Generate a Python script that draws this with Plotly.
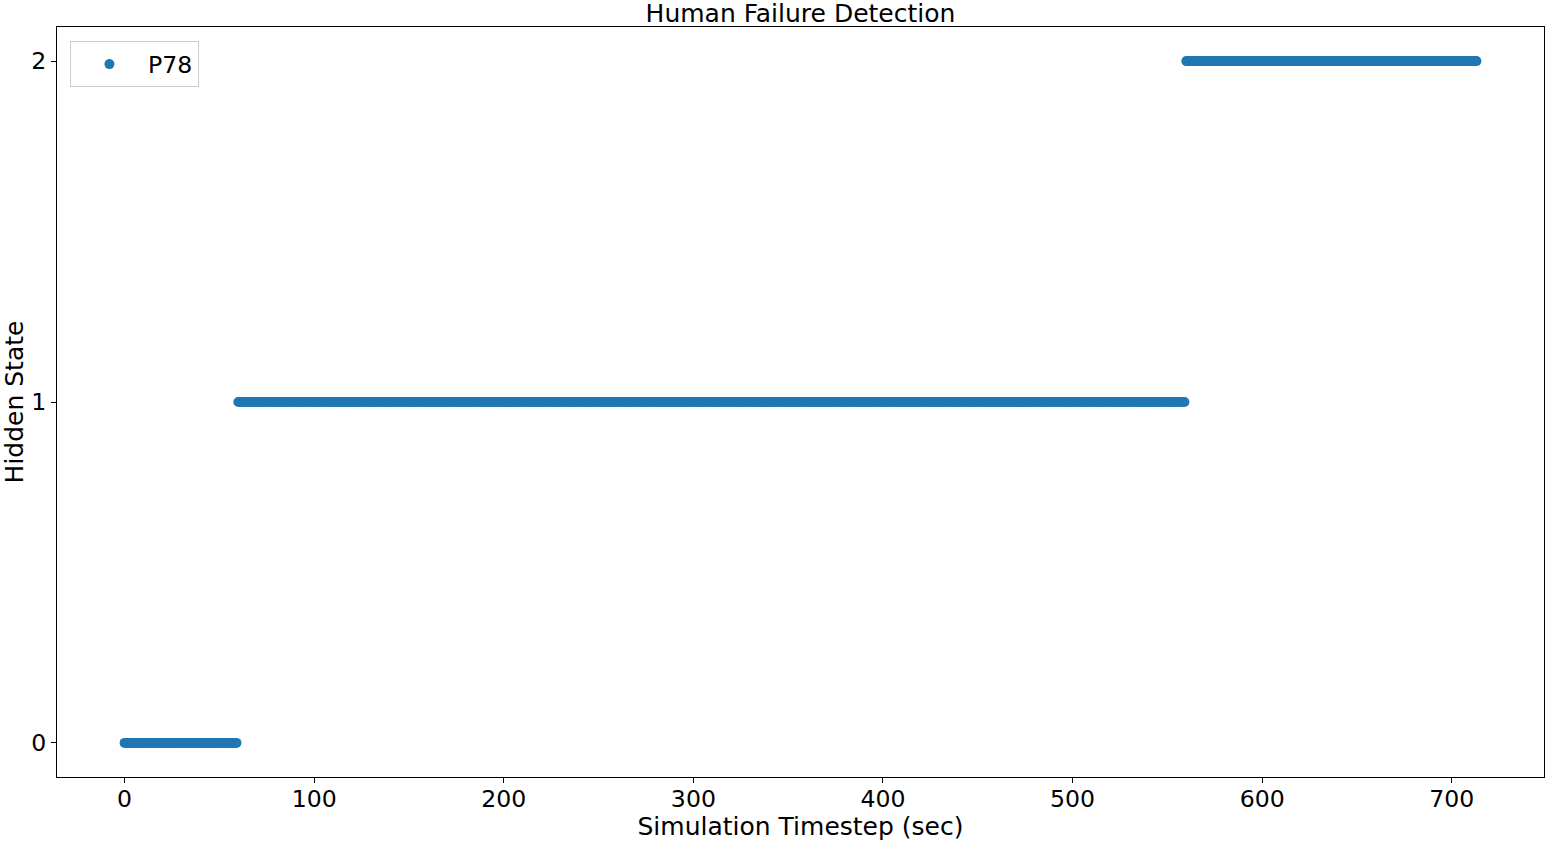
import plotly.graph_objects as go

label = "P78"

# hidden state segments (timestep in seconds)
seg_start = [0, 60, 560]
seg_end = [59, 559, 713]
seg_state = [0, 1, 2]

x_ticks = [0, 100, 200, 300, 400, 500, 600, 700]
y_ticks = [0, 1, 2]

t = []
s = []
for a, b, st in zip(seg_start, seg_end, seg_state):
    for k in range(a, b + 1):
        t.append(k)
        s.append(st)

font = dict(family="DejaVu Sans", size=23.6, color="black")
big = dict(family="DejaVu Sans", size=25, color="black")

fig = go.Figure()
fig.add_trace(go.Scatter(x=t, y=s, mode="markers", name=label,
                         marker=dict(color="#1f77b4", size=10, line=dict(width=0))))

axis = dict(showgrid=False, zeroline=False, showline=True, linecolor="black",
            linewidth=1, mirror=True, ticks="outside", ticklen=5,
            tickcolor="black", tickfont=font)

fig.update_layout(
    width=1546, height=841,
    plot_bgcolor="white", paper_bgcolor="white",
    margin=dict(l=57, r=2, t=27, b=64),
    font=font,
    title=dict(text="Human Failure Detection", x=(57 + 1544) / 2 / 1546, xanchor="center",
               yref="container", y=1 - 13 / 841, yanchor="middle", font=big),
    xaxis=dict(axis, range=[-35.65, 748.65], tickvals=x_ticks, ticklabelstandoff=-4,
               title=dict(text="Simulation Timestep (sec)", font=big, standoff=4)),
    yaxis=dict(axis, range=[-0.1, 2.1], tickvals=y_ticks,
               title=dict(text="Hidden State", font=big, standoff=8)),
    showlegend=True,
    legend=dict(x=0.0087, y=0.981, xanchor="left", yanchor="top",
                bordercolor="#cccccc", borderwidth=1, bgcolor="white",
                font=font, itemwidth=67),
)

fig.write_html("out.html", config={"displayModeBar": False},
               post_script="document.body.style.margin='0';")
